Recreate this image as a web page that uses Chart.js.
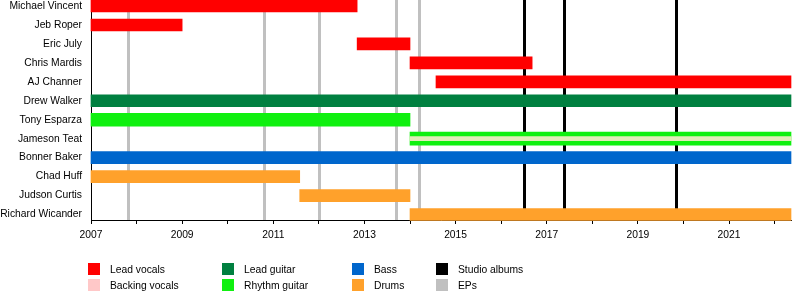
<!DOCTYPE html>
<html>
<head>
<meta charset="utf-8">
<script src="https://cdn.jsdelivr.net/npm/chart.js@4.4.1/dist/chart.umd.min.js"></script>
<style>
  body { margin: 0; background: #fff; }
  #wrap { position: relative; width: 800px; height: 300px; font-family: "Liberation Sans", Arial, sans-serif; font-size: 10.3px; }
  .key { position: absolute; width: 12px; height: 12px; filter: blur(0.5px); }
  .lbl { position: absolute; color: #000; line-height: 12px; white-space: nowrap; }
</style>
</head>
<body>
<div id="wrap">
  <canvas id="timeline" width="800" height="300"></canvas>
  <div id="legend"></div>
</div>
<script>
// Band members, top to bottom
const members = ["Michael Vincent", "Jeb Roper", "Eric July", "Chris Mardis", "AJ Channer",
  "Drew Walker", "Tony Esparza", "Jameson Teat", "Bonner Baker", "Chad Huff",
  "Judson Curtis", "Richard Wicander"];

// [member, start, end] in years
const endYear = 2022.36;
const leadVocals = [["Michael Vincent", 2007, 2012.84], ["Jeb Roper", 2007, 2009.0],
  ["Eric July", 2012.84, 2014.0], ["Chris Mardis", 2014.0, 2016.68], ["AJ Channer", 2014.57, endYear]];
const leadGuitar = [["Drew Walker", 2007, endYear]];
const rhythmGuitar = [["Tony Esparza", 2007, 2014.0], ["Jameson Teat", 2014.0, endYear]];
const backingVocals = [["Jameson Teat", 2014.0, endYear]];
const bass = [["Bonner Baker", 2007, endYear]];
const drums = [["Chad Huff", 2007, 2011.58], ["Judson Curtis", 2011.58, 2014.0], ["Richard Wicander", 2014.0, endYear]];

// release markers
const studioAlbums = [2016.51, 2017.37, 2019.83];
const eps = [2007.81, 2010.79, 2012.01, 2013.7, 2014.19];

// axis labels
const tickYears = [2007, 2009, 2011, 2013, 2015, 2017, 2019, 2021];

const legendItems = [
  ["Lead vocals", "#ff0000"], ["Backing vocals", "#ffc8c8"],
  ["Lead guitar", "#008040"], ["Rhythm guitar", "#10f010"],
  ["Bass", "#0066cc"], ["Drums", "#ffa12b"],
  ["Studio albums", "#000000"], ["EPs", "#c0c0c0"]
];

function toBars(list) {
  return list.map(([name, s, e]) => ({ y: members.indexOf(name), x: [s, e] }));
}

function barSet(label, list, color, thickness) {
  return {
    label: label,
    data: toBars(list),
    backgroundColor: color,
    borderWidth: 0,
    borderSkipped: false,
    barThickness: thickness,
    grouped: false,
    clip: false
  };
}

// vertical release lines, drawn behind the bars
const eventLines = {
  id: "eventLines",
  beforeDatasetsDraw(chart) {
    const { ctx, chartArea, scales } = chart;
    ctx.save();
    ctx.lineWidth = 3;
    const draw = (years, color) => {
      ctx.strokeStyle = color;
      years.forEach((yr) => {
        const px = Math.round(scales.x.getPixelForValue(yr)) + 0.5;
        ctx.beginPath();
        ctx.moveTo(px, chartArea.top);
        ctx.lineTo(px, chartArea.bottom);
        ctx.stroke();
      });
    };
    draw(eps, "#c0c0c0");
    draw(studioAlbums, "#000000");
    ctx.restore();
  }
};

const ctx = document.getElementById("timeline").getContext("2d");
new Chart(ctx, {
  type: "bar",
  data: {
    datasets: [
      barSet("Backing vocals", backingVocals, "#e2ebb8", 4),
      barSet("Lead vocals", leadVocals, "#ff0000", 12),
      barSet("Lead guitar", leadGuitar, "#008040", 12),
      barSet("Rhythm guitar", rhythmGuitar, "#10f010", 13),
      barSet("Bass", bass, "#0066cc", 12),
      barSet("Drums", drums, "#ffa12b", 12)
    ]
  },
  options: {
    indexAxis: "y",
    responsive: false,
    animation: false,
    layout: { padding: { top: 0, right: 9, bottom: 0, left: 0 } },
    plugins: { legend: { display: false }, tooltip: { enabled: false } },
    scales: {
      x: {
        type: "linear",
        min: 2007,
        max: endYear,
        offset: false,
        afterBuildTicks: (s) => {
          const t = [];
          for (let y = 2007; y <= 2022; y++) t.push({ value: y });
          s.ticks = t;
        },
        afterFit: (s) => { s.height = 80; s.paddingLeft = 0; s.paddingRight = 0; },
        grid: { drawOnChartArea: false, drawTicks: true, tickLength: 4, color: "#000" },
        border: { color: "#000", width: 1 },
        ticks: {
          autoSkip: false,
          maxRotation: 0,
          padding: 5,
          color: "#000",
          font: { family: "Liberation Sans", size: 10.3 },
          callback: (v) => (tickYears.includes(v) ? String(v) : "")
        }
      },
      y: {
        type: "linear",
        reverse: true,
        offset: false,
        min: -0.3166,
        max: 11.29,
        afterBuildTicks: (s) => { s.ticks = members.map((_, i) => ({ value: i })); },
        afterFit: (s) => { s.width = 91; s.paddingTop = 0; s.paddingBottom = 0; },
        grid: { display: false, drawTicks: false, offset: false },
        border: { color: "#000", width: 1 },
        ticks: {
          autoSkip: false,
          padding: 9,
          color: "#000",
          font: { family: "Liberation Sans", size: 10.3 },
          callback: (v) => members[v] || ""
        }
      }
    }
  },
  plugins: [eventLines]
});

// legend, four columns of two
const legend = document.getElementById("legend");
const colX = [88, 222, 352, 436];
const rowY = [263, 279];
legendItems.forEach(([text, color], i) => {
  const cx = colX[Math.floor(i / 2)];
  const cy = rowY[i % 2];
  const key = document.createElement("div");
  key.className = "key";
  key.style.left = cx + "px";
  key.style.top = cy + "px";
  key.style.background = color;
  const lbl = document.createElement("div");
  lbl.className = "lbl";
  lbl.style.left = (cx + 22) + "px";
  lbl.style.top = (cy + 1) + "px";
  lbl.textContent = text;
  legend.appendChild(key);
  legend.appendChild(lbl);
});
</script>
</body>
</html>
